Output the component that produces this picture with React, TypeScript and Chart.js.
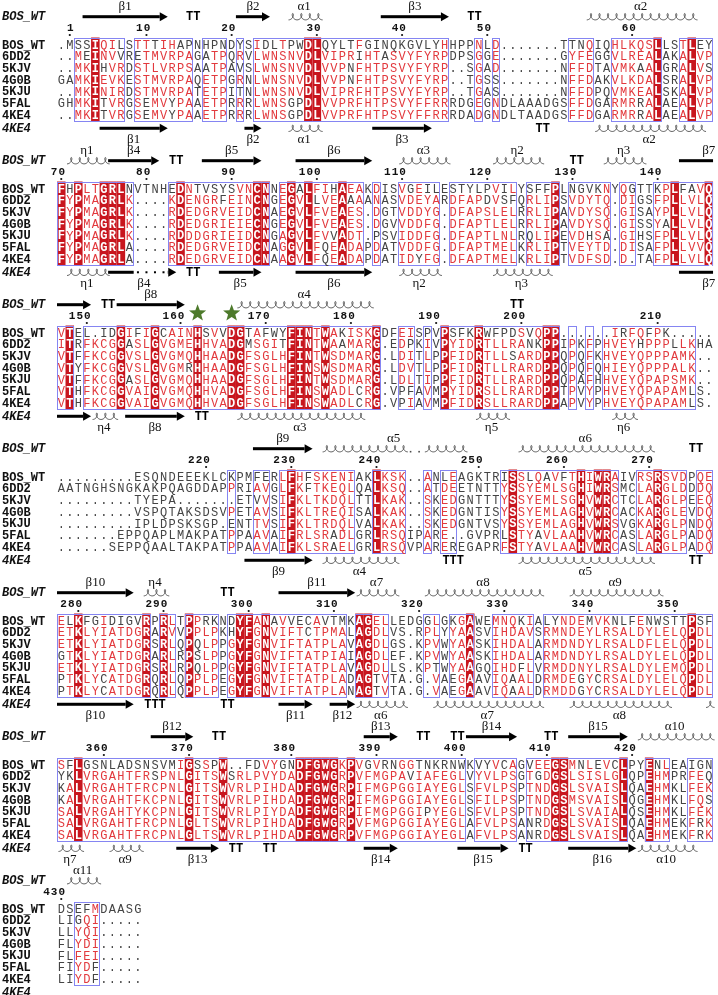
import React, { useEffect, useRef } from 'react';
import { Chart, registerables } from 'chart.js';

Chart.register(...registerables);

// ---------------- data ----------------
const seqNames = ['BOS_WT', '6DD2', '5KJV', '4G0B', '5KJU', '5FAL', '4KE4'];
const ssTopName = 'BOS_WT';
const ssBottomName = '4KE4';

const bosWT = [
  '.MSSIQILSTTTIHAPNHPNDYSIDLTPWDLQYLTFGINQKGVLYHHPPNLD.......TTNQIQHLKQSLLSTLEY',
  'FHPLTGRLNVTNHEDNTVSYSVNCNNEGALFIHAEAKDISVGEILESTYLPVILYSFFPLNGVKNYQGTTKPLFAVQ',
  'VTEL.IDGIFIGCAINHSVVDGTAFWYFINTWAKISKGDFEISPVPSFKRWFPDSVQPP......IRFQFPK.....',
  '.........ESQNDEEEKLCKPMFERLFHFSKENIAKLKSK..ANLEAGKTRISSLQAVFTHIWRAIVRSRSVDPQE',
  'ELKFGIDIGVRPRLTPPRKNDYFANAVVECAVTMKAGELLEDGGLGKGAWEMNQKIALYNDEMVKNLFENWSTTPSF',
  'SFLGSNLADSNSVMIGSSPW..FDVYGNDFGWGKPVGVRNGGTNKRNWKVYVCAGVEEGSMNLEVCLPYENLEAIGN',
  'DSEFMDAASG',
];
const s6DD2 = [
  '..MEINVVRETMVRPAGATPQRVLWNSNVDLVIPRIHTASVYFYRPDPSGGE.......GYFEGGVLREALAKALVP',
  'FYPMAGRLK....KDENGRFEINCNGEGVLLVEAAAANASVDEYARDFAPDVSFQRLIPSVDYTQ.DIGSFPLLVLQ',
  'ITRFKCGGASLGVGMEHHVADGMSGITFINTWAAMARG.EDPKIVPYIDRTLLRANKPPIPKFPHVEYHPPPLLKHA',
  'AATNGHSNGKAKPQAGDDAPPRIAVGLFKFTKEQLQALKSQ..ATDEETNTTYSSYEMLSGHIWRSMCLARGLDDDQ',
  'ETKLYIATDGRARVVPPLPKHYFGNVIFTCTPMALAGDLVS.RPLYYAASVIHDAVSRMNDEYLRSALDYLELQPDL',
  'YKLVRGAHTFRSPNLGITSWSRLPVYDADFGWGRPVFMGPAVIAFEGLVYVLPSGTGDGSLSISLGLQPEHMPRFEQ',
  'LIGQI.....',
];
const s5KJV = [
  '..MKIHVRDSTLVRPSAATPAVSLWNSNVDLVVPNFHTPSVYFYRP..SGAD.......NFFDTAVMKAALGRALVS',
  'FYPMAGRLK....RDEDGRVEIDCNAEGVLFVEAES.DGTVDDYG.DFAPSLELRRLIPAVDYSQ.GISAYPLLVLQ',
  'VTFFKCGGVSLGVGMQHHAADGFSGLHFINTWSDMARG.LDITLPPFIDRTLLSARDPPQPQFKHVEYQPPPAMK..',
  '.........TYEPA.......ETVVSIFKLTKDQLTTLKAK..SKEDGNTTTYSSYEMLSGHVWRCTCLARGLPEEQ',
  'ETKLYIATDGRSRLQPQLPPGYFGNVIFTATPLAVAGDLGS.KPVWYAASKIHDALARMDNDYLRSALDFLELQPDL',
  'KALVRGAHTFRCPNLGITSWVRLPIHDADFGWGRPIFMGPGGIAYEGLSFVLPSPTNDGSLSVAISLQAEHMKLFEK',
  'LLYQI.....',
];
const s4G0B = [
  'GAMKIEVKESTMVRPAQETPGRNLWNSNVDLVVPNFHTPSVYFYRP..TGSS.......NFFDAKVLKDALSRALVP',
  'FYPMAGRLK....RDEDGRIEIECNGEGVLFVEAES.DGVVDDFG.DFAPTLELRRLIPAVDYSQ.GISSYALLVLQ',
  'VTYFKCGGVSLGVGMRHHAADGFSGLHFINSWSDMARG.LDVTLPPFIDRTLLRARDPPQPQFQHIEYQPPPALK..',
  '.........VSPQTAKSDSVPETAVSIFKLTREQISALKAK..SKEDGNTISYSSYEMLAGHVWRCACKARGLEVDQ',
  'GTKLYIATDGRARLRPSLPPGYFGNVIFTATPIAIAGDLEF.KPVWYAASKIHDALARMDNDYLRSALDYLELQPDL',
  'KALVRGAHTFKCPNLGITSWVRLPIHDADFGWGRPIFMGPGGIAYEGLSFILPSPTNDGSMSVAISLQGEHMKLFQS',
  'FLYDI.....',
];
const s5KJU = [
  '..MKINIRDSTMVRPATETPITNLWNSNVDLVIPRFHTPSVYFYRP..TGAS.......NFFDPQVMKEALSKALVP',
  'FYPMAGRLK....RDDDGRIEIDCNGAGVLFVVADT.PSVIDDFG.DFAPTLNLRQLIPEVDHSA.GIHSFPLLVLQ',
  'VTFFKCGGASLGVGMQHHAADGFSGLHFINTWSDMARG.LDLTIPPFIDRTLLRARDPPQPAFHHVEYQPAPSMK..',
  '.........IPLDPSKSGP.ENTTVSIFKLTRDQLVALKAK..SKEDGNTVSYSSYEMLAGHVWRSVGKARGLPNDQ',
  'ETKLYIATDGRSRLRPQLPPGYFGNVIFTATPLAVAGDLLS.KPTWYAAGQIHDFLVRMDDNYLRSALDYLEMQPDL',
  'SALVRGAHTYKCPNLGITSWVRLPIYDADFGWGRPIFMGPGGIPYEGLSFVLPSPTNDGSLSVAIALQSEHMKLFEK',
  'FLFEI.....',
];
const s5FAL = [
  'GHMKITVRGSEMVYPAAETPRRRLWNSGPDLVVPRFHTPSVYFFRRRDGEGNDLAAADGSFFDGARMRRALAEALVP',
  'FYPMAGRLA....RDEDGRVEIDCNAGGVLFQEADAPDATVDDFG.DFAPTMELKRLIPTVEYTD.DISAFPLLVVQ',
  'VTHFKCGGVAIGVGMQHHVADGFSGLHFINSWADLCRG.VPFAVMPYIDRSLLRARDPPTPVYPHVEYQPAPAMLS.',
  '.......EPPQAPLMAKPATPPAAVAIFRLSRADLGRLRSQIPARE..GVPRLSTYAVLAAHVWRCASLARGLPADQ',
  'PTKLYCATDGRQRLQPPLPEGYFGNVIFTATPLADAGTVTA.G.VAEGAAVIQAALDRMDEGYCRSALDYLELQPDL',
  'SALVRGAHTFRCPNLGLTSWVRLPIHDADFGWGRPVFMGPGGIAYEGLAFVLPSANRDGSLSVAISLQAEHMEKFRK',
  'FIYDF.....',
];
const s4KE4 = [
  '..MKITVRGSEMVYPAAETPRRRLWNSGPDLVVPRFHTPSVYFFRRRDADGNDLTAADGSFFDGARMRRALAEALVP',
  'FYPMAGRLA....RDEDGRVEIDCNAAGVLFQEADAPDATIDYFG.DFAPTMELKRLIPTVDFSD.D.TAFPLLVLQ',
  'VTHFKCGGVAIGVGMQHHVADGFSGLHFINSWADLCRG.VPIAVMPFIDRSLLRARDPPAPVYPHVEYQPAPAMLS.',
  '......SEPPQAALTAKPATPPAAVAIFKLSRAELGRLRSQVPAREREGAPRFSTYAVLAAHVWRCASLARGLPADQ',
  'PTKLYCATDGRQRLQPPLPEGYFGNVIFTATPLANAGTVTA.G.VAEGAAVIQAALDRMDDGYCRSALDYLELQPDL',
  'SALVRGAHTFRCPNLGLTSWVRLPIHDADFGWGRPVFMGPGGIAYEGLAFVLPSANRDGSLSVAISLQAEHMEKFRK',
  'LIYDF.....',
];
const sequences = [bosWT, s6DD2, s5KJV, s4G0B, s5KJU, s5FAL, s4KE4];

// similarity frames (column ranges) per block
const boxRanges = [
  [[2, 7], [9, 15], [17, 19], [21, 21], [23, 45], [49, 49], [51, 51], [60, 62], [65, 70], [73, 76]],
  [[0, 8], [13, 24], [26, 35], [37, 37], [40, 44], [46, 53], [55, 58], [60, 64], [66, 67], [70, 76]],
  [[0, 1], [3, 37], [40, 41], [43, 43], [45, 58], [60, 60], [62, 62], [64, 74]],
  [[20, 20], [23, 24], [26, 34], [37, 40], [43, 43], [45, 46], [52, 65], [68, 73], [75, 76]],
  [[0, 10], [12, 13], [15, 18], [20, 33], [35, 38], [43, 44], [46, 48], [51, 55], [57, 76]],
  [[0, 47], [49, 53], [55, 66], [69, 71], [74, 76]],
  [[2, 4]],
];

// secondary structure: [kind, fromCol, toCol, label?, labelCol?, gap?]
// kinds: b = strand arrow, l = strand continuing (no head), a = helix coil, t = turn
const ssTop: any[][] = [
  [['b', 3, 12, 'β1'], ['t', 15, 16], ['b', 21, 24, 'β2'], ['a', 27, 30, 'α1'], ['b', 38, 45, 'β3'], ['t', 48, 49], ['a', 62, 74, 'α2']],
  [['a', 1, 5, 'η1'], ['b', 6, 11, 'β4'], ['t', 13, 14], ['b', 17, 23, 'β5'], ['b', 28, 36, 'β6'], ['a', 40, 45, 'α3'], ['a', 51, 56, 'η2'], ['t', 60, 61], ['a', 64, 68, 'η3'], ['l', 73, 76, 'β7', 76]],
  [['b', 0, 3], ['t', 5, 6], ['b', 7, 14, 'β8'], ['a', 21, 36, 'α4'], ['t', 53, 54]],
  [['b', 23, 29, 'β9'], ['a', 31, 47, 'α5', null, [41, 42]], ['a', 54, 69, 'α6'], ['t', 74, 75]],
  [['b', 0, 8, 'β10'], ['a', 10, 12, 'η4'], ['t', 19, 20], ['b', 26, 34, 'β11'], ['a', 35, 39, 'α7'], ['a', 43, 56, 'α8'], ['a', 60, 70, 'α9']],
  [['b', 11, 15, 'β12'], ['t', 18, 19], ['b', 36, 39, 'β13'], ['t', 42, 43], ['t', 46, 47], ['b', 48, 53, 'β14'], ['t', 57, 58], ['b', 60, 66, 'β15'], ['a', 68, 76, 'α10']],
  [['a', 1, 4, 'α11']],
];
const ssBottom: any[][] = [
  [['b', 5, 12, 'β1'], ['b', 22, 23, 'β2'], ['a', 27, 30, 'α1'], ['b', 37, 43, 'β3'], ['t', 56, 57], ['a', 63, 75, 'α2']],
  [['a', 1, 5, 'η1'], ['b', 6, 13, 'β4', 9.7, [9, 12]], ['t', 15, 16], ['b', 19, 23, 'β5'], ['b', 28, 36, 'β6'], ['a', 40, 44, 'η2'], ['a', 51, 57, 'η3'], ['l', 73, 76, 'β7', 76]],
  [['b', 0, 3], ['a', 4, 6, 'η4'], ['b', 8, 14, 'β8'], ['t', 16, 17], ['a', 21, 35, 'α3'], ['a', 49, 52, 'η5'], ['a', 65, 67, 'η6']],
  [['b', 22, 29, 'β9'], ['a', 31, 39, 'α4'], ['t', 45, 47], ['a', 54, 69, 'α5'], ['t', 74, 75]],
  [['b', 0, 8, 'β10'], ['t', 10, 12], ['t', 19, 20], ['b', 26, 29, 'β11'], ['b', 32, 34, 'β12'], ['a', 35, 40, 'α6'], ['a', 44, 56, 'α7'], ['a', 60, 71, 'α8'], ['a', 76, 76]],
  [['a', 0, 2, 'η7'], ['a', 6, 9, 'α9'], ['b', 14, 18, 'β13'], ['t', 20, 21], ['t', 24, 25], ['b', 36, 39, 'β14'], ['b', 47, 52, 'β15'], ['t', 54, 55], ['b', 60, 67, 'β16'], ['a', 68, 74, 'α10']],
  [],
];

// marked residues: [block, column]
const starMarks = [[2, 16], [2, 20]];

// similarity groups used for red lettering inside frames
const simGroups = ['ILMV', 'FYW', 'KRH', 'DENQ', 'STAG', 'P', 'C'];

// ---------------- layout ----------------
const W = 718;
const H = 995;
const COL_W = 8.52;
const X0 = 57;
const ROW_H = 11.72;
const FIRST_BASE = 16.7 / ROW_H;
const BLOCK_LINES = 144 / ROW_H;
const XMIN = -(X0 + COL_W / 2) / COL_W;
const XMAX = XMIN + W / COL_W;
const YMAX = H / ROW_H;

const RED_BG = '#c8161e';
const RED_TXT = '#e2393d';
const GRAY_TXT = '#444444';
const BOX = '#8585f2';
const STAR = '#4d7a2b';

const SEQ_FONT = "12px 'Liberation Mono', monospace";
const SEQ_BOLD = "bold 12px 'Liberation Mono', monospace";
const NAME_FONT = "bold 12px 'Liberation Mono', monospace";
const NAME_ITALIC = "italic bold 12px 'Liberation Mono', monospace";
const NUM_FONT = "bold 11px 'Liberation Mono', monospace";
const GREEK_FONT = "13px 'Liberation Serif', 'DejaVu Serif', serif";

function groupOf(ch: string) {
  for (let i = 0; i < simGroups.length; i++) if (simGroups[i].includes(ch)) return i;
  return -1;
}

const alignmentPlugin = {
  id: 'alignmentPlugin',
  afterDraw(chart: any) {
    const ctx = chart.ctx as CanvasRenderingContext2D;
    const xs = chart.scales.x;
    const ys = chart.scales.y;
    const X = (c: number) => xs.getPixelForValue(c);
    const Y = (v: number) => ys.getPixelForValue(v);
    const cw = X(1) - X(0);
    const lh = Y(1) - Y(0);
    const left = (c: number) => X(c) - cw / 2;
    const right = (c: number) => X(c) + cw / 2;

    ctx.save();
    let residue = 0;
    for (let b = 0; b < bosWT.length; b++) {
      const base = FIRST_BASE + b * BLOCK_LINES;
      const rowV = (r: number) => base + 2.415 + r;
      const ncol = bosWT[b].length;
      const boxTop = Y(rowV(0) - 0.64);
      const boxBot = Y(rowV(sequences.length - 1) + 0.56);

      // column classes
      const boxed: boolean[] = new Array(ncol).fill(false);
      for (const [a, e] of boxRanges[b]) for (let c = a; c <= e; c++) boxed[c] = true;
      const identical: boolean[] = [];
      for (let c = 0; c < ncol; c++) {
        const ch = sequences[0][b][c];
        identical[c] = ch !== '.' && sequences.every((s) => s[b][c] === ch);
      }

      // red background cells
      ctx.fillStyle = RED_BG;
      for (let c = 0; c < ncol; c++) {
        if (identical[c]) ctx.fillRect(left(c), boxTop, cw, boxBot - boxTop);
      }
      // frames
      ctx.strokeStyle = BOX;
      ctx.lineWidth = 1;
      for (const [a, e] of boxRanges[b]) {
        const x1 = Math.round(left(a)) + 0.5;
        const x2 = Math.round(right(e)) - 0.5;
        ctx.strokeRect(x1, Math.round(boxTop) + 0.5, x2 - x1, Math.round(boxBot - boxTop) - 1);
      }

      // residues
      ctx.textAlign = 'center';
      ctx.textBaseline = 'middle';
      for (let c = 0; c < ncol; c++) {
        const counts = new Array(simGroups.length).fill(0);
        if (boxed[c]) {
          for (const s of sequences) {
            const g = groupOf(s[b][c]);
            if (g >= 0) counts[g]++;
          }
        }
        for (let r = 0; r < sequences.length; r++) {
          const ch = sequences[r][b][c];
          const y = Y(rowV(r)) + 0.5;
          if (identical[c]) {
            ctx.font = SEQ_BOLD;
            ctx.fillStyle = '#ffffff';
          } else {
            ctx.font = SEQ_FONT;
            const g = groupOf(ch);
            ctx.fillStyle = boxed[c] && g >= 0 && counts[g] >= 3 ? RED_TXT : GRAY_TXT;
          }
          ctx.fillText(ch, X(c), y);
        }
      }

      // row names
      ctx.textAlign = 'left';
      ctx.fillStyle = '#111111';
      ctx.font = NAME_FONT;
      for (let r = 0; r < seqNames.length; r++) ctx.fillText(seqNames[r], 2, Y(rowV(r)) + 0.5);
      ctx.font = NAME_ITALIC;
      ctx.fillText(ssTopName, 2, Y(base) + 0.5);
      ctx.fillText(ssBottomName, 2, Y(base + 9.52) + 0.5);

      // numbering from the reference sequence
      ctx.fillStyle = '#111111';
      for (let c = 0; c < ncol; c++) {
        if (bosWT[b][c] === '.') continue;
        residue++;
        if (residue === 1 || residue % 10 === 0) {
          const txt = String(residue);
          ctx.font = NUM_FONT;
          ctx.textAlign = 'center';
          const step = 7.6;
          for (let k = 0; k < txt.length; k++) {
            ctx.fillText(txt[k], X(c) + 0.5 - (txt.length - 1 - k) * step, Y(base + 0.96) + 0.5);
          }
          ctx.beginPath();
          ctx.arc(X(c), Y(base + 1.56), 1.1, 0, Math.PI * 2);
          ctx.fill();
        }
      }

      // secondary structure rows
      const drawSS = (items: any[], yv: number, labelDir: number) => {
        const y = Y(yv);
        for (const it of items) {
          const [kind, a, e, label, labelCol, gap] = it;
          ctx.fillStyle = '#000000';
          ctx.strokeStyle = '#4a4a4a';
          if (kind === 'b' || kind === 'l') {
            const xa = left(a);
            const xe = right(e);
            const head = kind === 'b' ? 8 : 0;
            if (gap) {
              ctx.fillRect(xa, y - 1.5, left(gap[0]) - xa, 3);
              for (let c = gap[0]; c <= gap[1]; c++) ctx.fillRect(X(c) - 1, y - 1, 2, 2);
              ctx.fillRect(left(gap[1] + 1), y - 1.5, xe - head - left(gap[1] + 1), 3);
            } else {
              ctx.fillRect(xa, y - 1.5, xe - xa - head, 3);
            }
            if (head) {
              ctx.beginPath();
              ctx.moveTo(xe - head, y - 4.5);
              ctx.lineTo(xe, y);
              ctx.lineTo(xe - head, y + 4.5);
              ctx.closePath();
              ctx.fill();
            }
          } else if (kind === 'a') {
            const segs: number[][] = gap ? [[a, gap[0] - 1], [gap[1] + 1, e]] : [[a, e]];
            ctx.lineWidth = 0.9;
            for (const [s1, s2] of segs) {
              const n = s2 - s1 + 1;
              const aa = cw / (2 * Math.PI);
              const bb = 2.3;
              const hh = 3.2;
              const x1 = left(s1) + 1.5;
              ctx.beginPath();
              const steps = n * 24;
              for (let i = 0; i <= steps; i++) {
                const t = (i / 24) * 2 * Math.PI;
                const px = x1 + aa * t + bb * Math.sin(t);
                const py = y + hh * Math.cos(t);
                if (i === 0) ctx.moveTo(px, py);
                else ctx.lineTo(px, py);
              }
              ctx.stroke();
            }
            if (gap) {
              ctx.fillStyle = '#4a4a4a';
              for (let c = gap[0]; c <= gap[1]; c++) ctx.fillRect(X(c) - 0.8, y + 2.2, 1.6, 1.6);
            }
          } else if (kind === 't') {
            ctx.font = NAME_FONT;
            ctx.textAlign = 'center';
            ctx.fillText('T'.repeat(e - a + 1), (X(a) + X(e)) / 2, y + 0.5);
          }
          if (label) {
            const lc = labelCol != null ? labelCol : (a + e) / 2;
            ctx.font = GREEK_FONT;
            ctx.textAlign = 'center';
            ctx.fillStyle = '#111111';
            ctx.fillText(label, X(lc), Y(yv + labelDir * 0.94) + 0.5);
          }
        }
      };
      drawSS(ssTop[b], base, -1);
      drawSS(ssBottom[b], base + 9.52, 1);
    }

    // star marks
    ctx.fillStyle = STAR;
    for (const [b, c] of starMarks) {
      const cx = X(c);
      const cy = Y(FIRST_BASE + b * BLOCK_LINES + 0.73);
      ctx.beginPath();
      for (let i = 0; i < 10; i++) {
        const ang = -Math.PI / 2 + (i * Math.PI) / 5;
        const rad = i % 2 === 0 ? 9 : 3.8;
        const px = cx + rad * Math.cos(ang);
        const py = cy + rad * Math.sin(ang);
        if (i === 0) ctx.moveTo(px, py);
        else ctx.lineTo(px, py);
      }
      ctx.closePath();
      ctx.fill();
    }
    ctx.restore();
    void lh;
  },
};

export default function App() {
  const ref = useRef<HTMLCanvasElement | null>(null);
  useEffect(() => {
    document.body.style.margin = '0';
    const canvas = ref.current;
    if (!canvas) return;
    const chart = new Chart(canvas, {
      type: 'scatter',
      data: { datasets: [{ data: [], pointRadius: 0 }] },
      options: {
        animation: false,
        responsive: false,
        devicePixelRatio: 1,
        layout: { padding: 0 },
        plugins: { legend: { display: false }, tooltip: { enabled: false } },
        scales: {
          x: { type: 'linear', min: XMIN, max: XMAX, display: false },
          y: { type: 'linear', min: 0, max: YMAX, reverse: true, display: false },
        },
      },
      plugins: [alignmentPlugin],
    } as any);
    return () => chart.destroy();
  }, []);
  return (
    <div style={{ width: W, height: H, position: 'relative', background: '#ffffff' }}>
      <canvas ref={ref} width={W} height={H} style={{ display: 'block', width: W, height: H }} />
    </div>
  );
}
